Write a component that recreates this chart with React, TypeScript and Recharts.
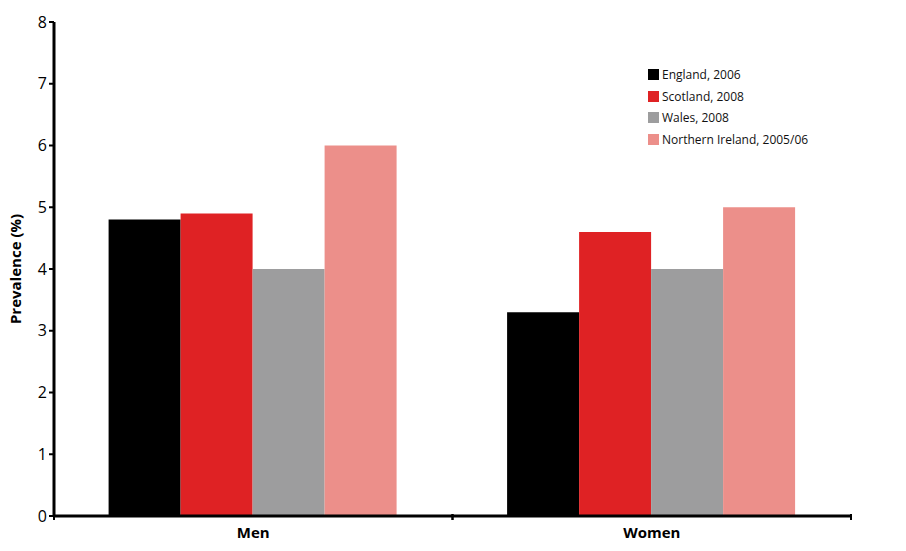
import { Bar, BarChart, XAxis, YAxis } from 'recharts'

const groups = ['Men', 'Women']
const england = [4.8, 3.3]
const scotland = [4.9, 4.6]
const wales = [4.0, 4.0]
const northernIreland = [6.0, 5.0]
const yTicks = [0, 1, 2, 3, 4, 5, 6, 7, 8]

const SERIES = [
  { key: 'england', name: 'England, 2006', color: '#000000' },
  { key: 'scotland', name: 'Scotland, 2008', color: '#df2224' },
  { key: 'wales', name: 'Wales, 2008', color: '#9d9d9e' },
  { key: 'ni', name: 'Northern Ireland, 2005/06', color: '#ec8f8a' },
]

const data = groups.map((g, i) => ({
  group: g,
  england: england[i],
  scotland: scotland[i],
  wales: wales[i],
  ni: northernIreland[i],
}))

const FONT = '"Open Sans", "DejaVu Sans", sans-serif'

// label at the centre, tick marks on the category edges
function TickCategoria(props: any) {
  const { x, y, payload } = props
  const half = payload?.offset ?? 0
  return (
    <g>
      <line x1={x - half} x2={x - half} y1={y - 4} y2={y + 2} stroke="#000" strokeWidth={2} />
      <line x1={x + half} x2={x + half} y1={y - 4} y2={y + 2} stroke="#000" strokeWidth={2} />
      <text x={x} y={y + 20} textAnchor="middle" fill="#000" fontSize={15} fontWeight={700} fontFamily={FONT}>
        {payload.value}
      </text>
    </g>
  )
}

function Leyenda() {
  return (
    <div style={{ position: 'absolute', top: 64, left: 648, fontFamily: FONT, fontSize: 12, color: '#111' }}>
      {SERIES.map((s) => (
        <div key={s.key} style={{ display: 'flex', alignItems: 'center', height: 21.5 }}>
          <span style={{ width: 11, height: 11, background: s.color, marginRight: 3 }} />
          <span>{s.name}</span>
        </div>
      ))}
    </div>
  )
}

export default function App() {
  return (
    <div style={{ margin: -8, position: 'relative', width: 906, height: 551 }}>
      <BarChart
        width={906}
        height={551}
        data={data}
        margin={{ top: 22, right: 55, bottom: 0, left: 0 }}
        barCategoryGap="13.7%"
        barGap={0}
      >
        <XAxis
          dataKey="group"
          height={35}
          axisLine={{ stroke: '#000', strokeWidth: 3 }}
          tickLine={false}
          tickSize={0}
          tick={<TickCategoria />}
          interval={0}
        />
        <YAxis
          domain={[0, 8]}
          ticks={yTicks}
          width={54}
          axisLine={{ stroke: '#000', strokeWidth: 3 }}
          tickLine={{ stroke: '#000', strokeWidth: 2 }}
          tickSize={5}
          tick={{ fill: '#000', fontSize: 16, fontFamily: FONT }}
          label={{
            value: 'Prevalence (%)',
            angle: -90,
            position: 'insideLeft',
            offset: 16,
            style: { textAnchor: 'middle', fontWeight: 700, fontSize: 15, fontFamily: FONT, fill: '#000' },
          }}
        />
        {SERIES.map((s) => (
          <Bar key={s.key} dataKey={s.key} name={s.name} fill={s.color} isAnimationActive={false} />
        ))}
      </BarChart>
      <Leyenda />
    </div>
  )
}
